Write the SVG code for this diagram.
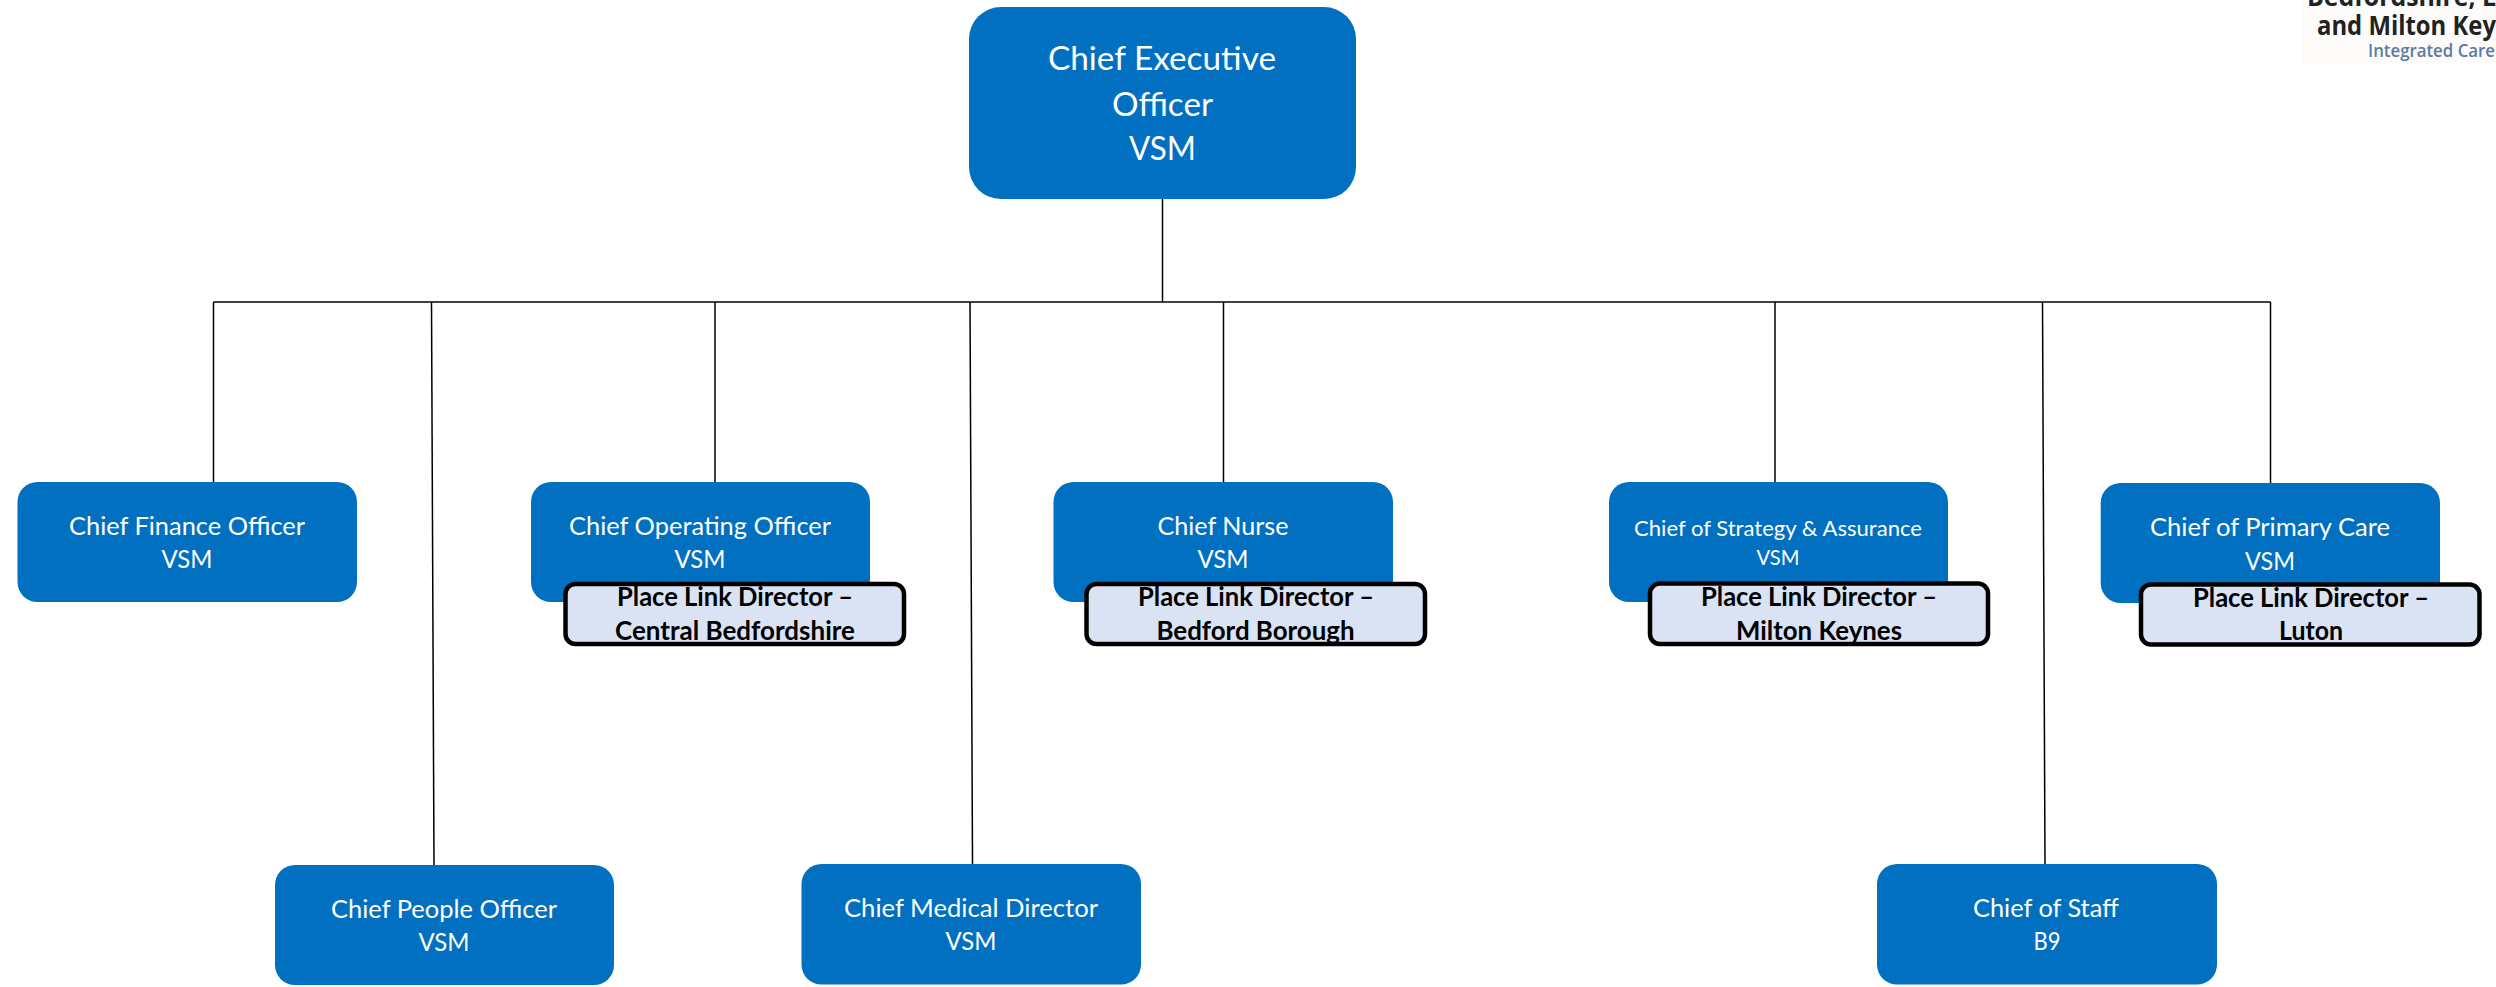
<svg xmlns="http://www.w3.org/2000/svg" width="2496" height="987" viewBox="0 0 2496 987">
<style>
.b{fill:#0170c1}
.p{fill:#dae3f3;stroke:#000;stroke-width:4.500}
text{font-family:Lato,"Noto Sans",sans-serif;text-anchor:middle}
.w{fill:#fff;font-size:25.400px}
.h{fill:#fff;font-size:33.500px}
.s{fill:#fff;font-size:21.600px}
.k{fill:#000;font-size:25.900px;font-weight:700}
.c{fill:none;stroke:#000;stroke-width:1.500}
.l{text-anchor:start;font-family:"Open Sans",sans-serif;fill:#222;font-size:26.500px;font-weight:700}
.m{text-anchor:start;font-family:"Open Sans",sans-serif;fill:#5b7ba6;font-size:17.500px;font-weight:600}
</style>
<rect width="2496" height="987" fill="#fff"/>
<g id="logo">
<rect x="2302" y="0" width="194" height="63" fill="#fdfcfa"/>
<text class="l" x="2307" y="6" textLength="189" lengthAdjust="spacingAndGlyphs">Bedfordshire, L</text>
<text class="l" x="2317" y="35" textLength="179" lengthAdjust="spacingAndGlyphs">and Milton Key</text>
<text class="m" x="2368" y="57" textLength="127" lengthAdjust="spacingAndGlyphs">Integrated Care</text>
</g>
<g id="connectors" class="c">
<path d="M1162.500 199V302"/>
<path d="M213.500 302H2270.500"/>
<path d="M213.500 302V482"/>
<path d="M431.500 302L434 865"/>
<path d="M715 302V482"/>
<path d="M970 302L972.500 864"/>
<path d="M1223.500 302V482"/>
<path d="M1775 302V482"/>
<path d="M2042.500 302L2045 864"/>
<path d="M2270.500 302V483"/>
</g>
<g id="ceo"><rect class="b" x="969" y="7" width="387" height="192" rx="32"/><text class="h" x="1162" y="70" textLength="228" lengthAdjust="spacingAndGlyphs">Chief Executive</text><text class="h" x="1162.500" y="116" textLength="101" lengthAdjust="spacingAndGlyphs">Officer</text><text class="h" x="1162.500" y="160" textLength="67" lengthAdjust="spacingAndGlyphs">VSM</text></g>
<g id="cfo"><rect class="b" x="17.500" y="482" width="339.500" height="120" rx="20"/><text class="w" x="187" y="535" textLength="236" lengthAdjust="spacingAndGlyphs">Chief Finance Officer</text><text class="w" x="187" y="568" textLength="51" lengthAdjust="spacingAndGlyphs">VSM</text></g>
<g id="people"><rect class="b" x="275" y="865" width="339" height="120" rx="20"/><text class="w" x="444" y="918" textLength="226" lengthAdjust="spacingAndGlyphs">Chief People Officer</text><text class="w" x="444" y="951" textLength="51" lengthAdjust="spacingAndGlyphs">VSM</text></g>
<g id="coo"><rect class="b" x="531" y="482" width="339" height="120" rx="20"/><text class="w" x="700" y="535" textLength="262" lengthAdjust="spacingAndGlyphs">Chief Operating Officer</text><text class="w" x="700" y="568" textLength="51" lengthAdjust="spacingAndGlyphs">VSM</text></g>
<g id="place-central"><rect class="p" x="565.500" y="584" width="338.500" height="60" rx="10"/><text class="k" x="735" y="606" textLength="236" lengthAdjust="spacingAndGlyphs">Place Link Director –</text><text class="k" x="735" y="640" textLength="240" lengthAdjust="spacingAndGlyphs">Central Bedfordshire</text></g>
<g id="medical"><rect class="b" x="801.500" y="864" width="339.500" height="120.500" rx="20"/><text class="w" x="971" y="917" textLength="254" lengthAdjust="spacingAndGlyphs">Chief Medical Director</text><text class="w" x="971" y="950" textLength="51" lengthAdjust="spacingAndGlyphs">VSM</text></g>
<g id="nurse"><rect class="b" x="1053.500" y="482" width="339.500" height="120" rx="20"/><text class="w" x="1223" y="535" textLength="131" lengthAdjust="spacingAndGlyphs">Chief Nurse</text><text class="w" x="1223" y="568" textLength="51" lengthAdjust="spacingAndGlyphs">VSM</text></g>
<g id="place-bedford"><rect class="p" x="1086.500" y="584" width="338.500" height="60" rx="10"/><text class="k" x="1256" y="606" textLength="236" lengthAdjust="spacingAndGlyphs">Place Link Director –</text><text class="k" x="1255.500" y="640" textLength="198" lengthAdjust="spacingAndGlyphs">Bedford Borough</text></g>
<g id="strategy"><rect class="b" x="1609" y="482" width="339" height="120" rx="20"/><text class="s" x="1778" y="536" textLength="288" lengthAdjust="spacingAndGlyphs">Chief of Strategy &amp; Assurance</text><text class="s" x="1778" y="565" textLength="43" lengthAdjust="spacingAndGlyphs">VSM</text></g>
<g id="place-mk"><rect class="p" x="1650" y="583.500" width="338" height="60.500" rx="10"/><text class="k" x="1819" y="606" textLength="236" lengthAdjust="spacingAndGlyphs">Place Link Director –</text><text class="k" x="1819" y="640" textLength="166" lengthAdjust="spacingAndGlyphs">Milton Keynes</text></g>
<g id="primary"><rect class="b" x="2100.700" y="483" width="339.300" height="120" rx="20"/><text class="w" x="2270" y="536" textLength="240" lengthAdjust="spacingAndGlyphs">Chief of Primary Care</text><text class="w" x="2270" y="569.500" textLength="50" lengthAdjust="spacingAndGlyphs">VSM</text></g>
<g id="place-luton"><rect class="p" x="2141" y="584.500" width="338.500" height="60" rx="10"/><text class="k" x="2311" y="607" textLength="236" lengthAdjust="spacingAndGlyphs">Place Link Director –</text><text class="k" x="2311" y="640" textLength="64" lengthAdjust="spacingAndGlyphs">Luton</text></g>
<g id="staff"><rect class="b" x="1877" y="864" width="340" height="120.500" rx="20"/><text class="w" x="2046" y="917" textLength="146" lengthAdjust="spacingAndGlyphs">Chief of Staff</text><text class="w" x="2047" y="950" textLength="27" lengthAdjust="spacingAndGlyphs">B9</text></g>
</svg>
